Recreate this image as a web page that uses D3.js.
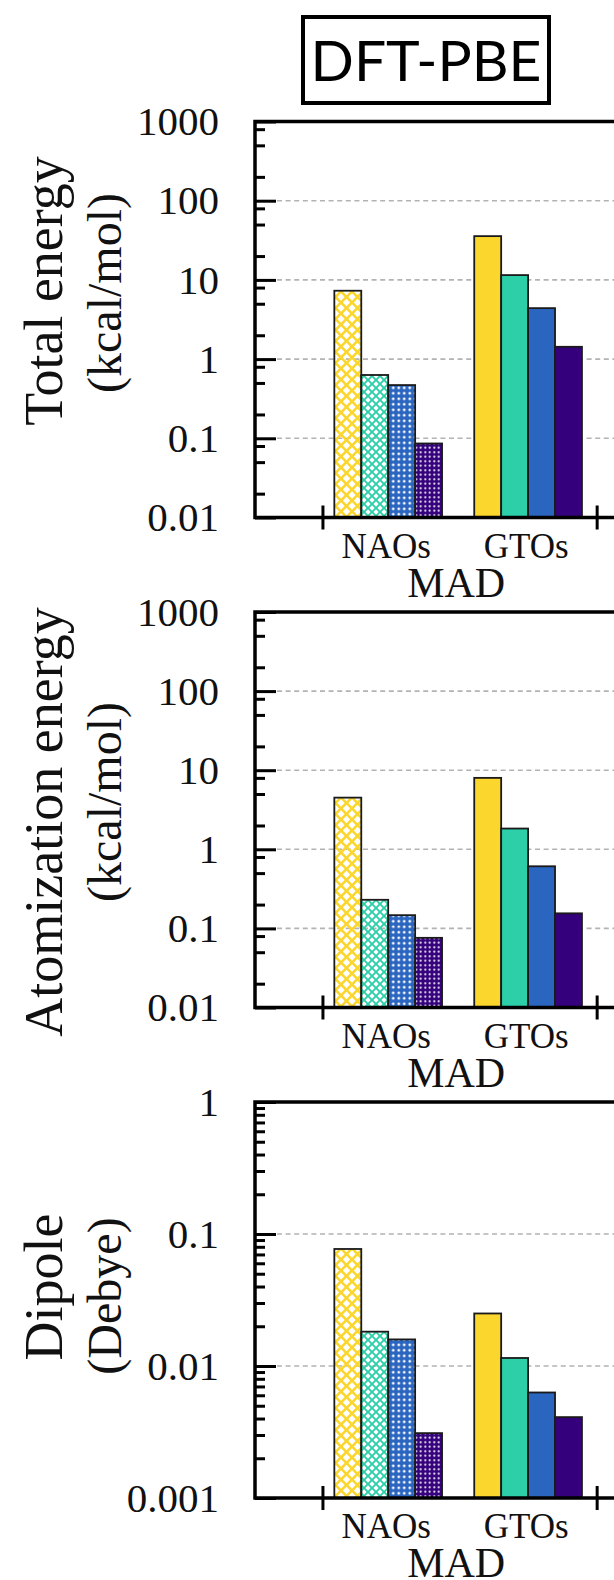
<!DOCTYPE html>
<html>
<head>
<meta charset="utf-8">
<script src="https://cdn.jsdelivr.net/npm/d3@7"></script>
<style>
  body { margin: 0; background: #fff; }
  svg { display: block; }
</style>
</head>
<body>
<svg></svg>
<script>
// values (MAD, log scale)
const groups = ['NAOs', 'GTOs']
const totalNAO = [7.3, 0.63, 0.47, 0.086]
const totalGTO = [35.7, 11.5, 4.4, 1.43]
const atomNAO = [4.5, 0.23, 0.147, 0.076]
const atomGTO = [8.0, 1.83, 0.61, 0.155]
const dipoleNAO = [0.077, 0.0182, 0.0159, 0.0031]
const dipoleGTO = [0.025, 0.0115, 0.0063, 0.0041]

const energyTicks = [0.01, 0.1, 1, 10, 100, 1000]
const energyTickLabels = ['0.01', '0.1', '1', '10', '100', '1000']
const dipoleTicks = [0.001, 0.01, 0.1, 1]
const dipoleTickLabels = ['0.001', '0.01', '0.1', '1']

const titles = [['Total energy', '(kcal/mol)'], ['Atomization energy', '(kcal/mol)'], ['Dipole', '(Debye)']]
const xTitle = 'MAD'
const method = 'DFT-PBE'

// styling / layout
const w = 614
const h = 1580
const axisX = 255
const colors = ['#fbd62d', '#2dcfa9', '#2a65c0', '#34007b']
const serif = '"Liberation Serif", "Times New Roman", serif'

const panels = [
  { nao: totalNAO, gto: totalGTO, ticks: energyTicks, labels: energyTickLabels, minor: [2, 5, 8], top: 121.5, bottom: 517.5, title: titles[0], titleY: [291, 293] },
  { nao: atomNAO, gto: atomGTO, ticks: energyTicks, labels: energyTickLabels, minor: [2, 5, 8], top: 612, bottom: 1007.5, title: titles[1], titleY: [822, 802] },
  { nao: dipoleNAO, gto: dipoleGTO, ticks: dipoleTicks, labels: dipoleTickLabels, minor: [2, 3, 4, 5, 6, 7, 8, 9], top: 1102, bottom: 1498, title: titles[2], titleY: [1287, 1296] }
]

const svg = d3.select('svg')
  .attr('width', w)
  .attr('height', h)

// x scale: cluster index -> pixels
const xScale = d3.scaleLinear()
  .domain([0, 1])
  .range([388.2, 528.1])
const barW = 0.1925
const xTickValues = [-0.47, 1.49]

// patterns for the NAO bars; the holes are see-through like gnuplot's fill patterns
const makePatterns = () => {
  const defs = svg.append('defs')
  const specs = [
    { size: 11, type: 'diamond' },
    { size: 8, type: 'diamond' },
    { size: 5.5, type: 'dot', r: 1.4 },
    { size: 4.5, type: 'dot', r: 1.05 }
  ]
  specs.forEach((s, i) => {
    const p = defs.append('pattern')
      .attr('id', 'pat' + i)
      .attr('patternUnits', 'userSpaceOnUse')
      .attr('width', s.size)
      .attr('height', s.size)
    const c = s.size / 2
    let d = `M0,0H${s.size}V${s.size}H0Z`
    if (s.type === 'diamond') {
      const r = s.size * 0.33
      const dia = (x, y) => `M${x},${y - r}L${x + r},${y}L${x},${y + r}L${x - r},${y}Z`
      d += dia(c, c) + dia(0, 0) + dia(s.size, 0) + dia(0, s.size) + dia(s.size, s.size)
    } else {
      d += `M${c - s.r},${c}a${s.r},${s.r} 0 1,0 ${2 * s.r},0a${s.r},${s.r} 0 1,0 ${-2 * s.r},0Z`
    }
    p.append('path')
      .attr('d', d)
      .attr('fill', colors[i])
      .attr('fill-rule', 'evenodd')
  })
}

const drawPanel = (p) => {
  const yScale = d3.scaleLog()
    .domain([p.ticks[0], p.ticks[p.ticks.length - 1]])
    .range([p.bottom, p.top])
  const g = svg.append('g')

  // dashed grid on inner decades
  g.selectAll('.grid')
    .data(p.ticks.slice(1, -1))
    .enter()
    .append('line')
    .attr('x1', axisX + 22)
    .attr('x2', w)
    .attr('y1', d => yScale(d))
    .attr('y2', d => yScale(d))
    .attr('stroke', '#b3b3b3')
    .attr('stroke-width', 1.6)
    .attr('stroke-dasharray', '5,3.6')

  // bars
  groups.forEach((name, gi) => {
    const vals = gi === 0 ? p.nao : p.gto
    g.selectAll(null)
      .data(vals)
      .enter()
      .append('rect')
      .attr('x', (d, i) => xScale(gi + (i - 2) * barW))
      .attr('width', xScale(barW) - xScale(0))
      .attr('y', d => yScale(d))
      .attr('height', d => p.bottom - yScale(d))
      .attr('fill', (d, i) => gi === 0 ? 'url(#pat' + i + ')' : colors[i])
      .attr('stroke', '#1a1a1a')
      .attr('stroke-width', 1.8)
  })

  // minor ticks
  let minorTicks = []
  p.ticks.slice(0, -1).forEach(t => p.minor.forEach(m => minorTicks.push(t * m)))
  const minorAxis = d3.axisLeft(yScale)
    .tickValues(minorTicks)
    .tickFormat('')
    .tickSizeInner(-10)
    .tickSizeOuter(0)
  const gm = g.append('g').attr('transform', `translate(${axisX},0)`).call(minorAxis)
  gm.select('.domain').remove()
  gm.selectAll('.tick line').attr('stroke-width', 3)

  // major ticks + labels
  const yAxis = d3.axisLeft(yScale)
    .tickValues(p.ticks)
    .tickFormat((d, i) => p.labels[i])
    .tickSizeInner(-21)
    .tickSizeOuter(0)
    .tickPadding(36)
  const gy = g.append('g').attr('transform', `translate(${axisX},0)`).call(yAxis)
  gy.select('.domain').remove()
  gy.selectAll('.tick line').attr('stroke-width', 3)
  gy.selectAll('.tick text')
    .style('font-family', serif)
    .style('font-size', '41px')
    .attr('fill', '#111')

  // frame: left, top, bottom
  g.append('path')
    .attr('d', `M${w + 5},${p.top}H${axisX}V${p.bottom}H${w + 5}`)
    .attr('fill', 'none')
    .attr('stroke', '#000')
    .attr('stroke-width', 3.5)

  // x ticks ("+" marks)
  const xAxis = d3.axisBottom(xScale)
    .tickValues(xTickValues)
    .tickFormat('')
    .tickSizeOuter(0)
  const gx = g.append('g').attr('transform', `translate(0,${p.bottom})`).call(xAxis)
  gx.select('.domain').remove()
  gx.selectAll('.tick line')
    .attr('y1', -12)
    .attr('y2', 12)
    .attr('stroke-width', 3)

  // group labels
  g.selectAll('.glabel')
    .data(groups)
    .enter()
    .append('text')
    .attr('x', (d, i) => xScale(i) - 2)
    .attr('y', p.bottom + 40)
    .attr('text-anchor', 'middle')
    .style('font-family', serif)
    .style('font-size', '35px')
    .attr('fill', '#111')
    .text(d => d)

  g.append('text')
    .attr('x', (xScale(0) + xScale(1)) / 2 - 2)
    .attr('y', p.bottom + 79)
    .attr('text-anchor', 'middle')
    .style('font-family', serif)
    .style('font-size', '42px')
    .attr('fill', '#111')
    .text(xTitle)

  // y title, two lines
  p.title.forEach((line, li) => {
    g.append('text')
      .attr('transform', `translate(${li === 0 ? 62 : 121},${p.titleY[li]}) rotate(-90)`)
      .attr('text-anchor', 'middle')
      .style('font-family', serif)
      .style('font-size', li === 0 ? '54px' : '48px')
      .attr('fill', '#111')
      .text(line)
  })
}

const drawTitle = () => {
  svg.append('rect')
    .attr('x', 303)
    .attr('y', 17)
    .attr('width', 246)
    .attr('height', 86)
    .attr('fill', 'none')
    .attr('stroke', '#000')
    .attr('stroke-width', 4)
  svg.append('text')
    .attr('x', 426)
    .attr('y', 81)
    .attr('text-anchor', 'middle')
    .style('font-family', 'Lato, "Noto Sans", sans-serif')
    .style('font-size', '57px')
    .attr('fill', '#000')
    .text(method)
}

makePatterns()
panels.forEach(drawPanel)
drawTitle()
</script>
</body>
</html>
